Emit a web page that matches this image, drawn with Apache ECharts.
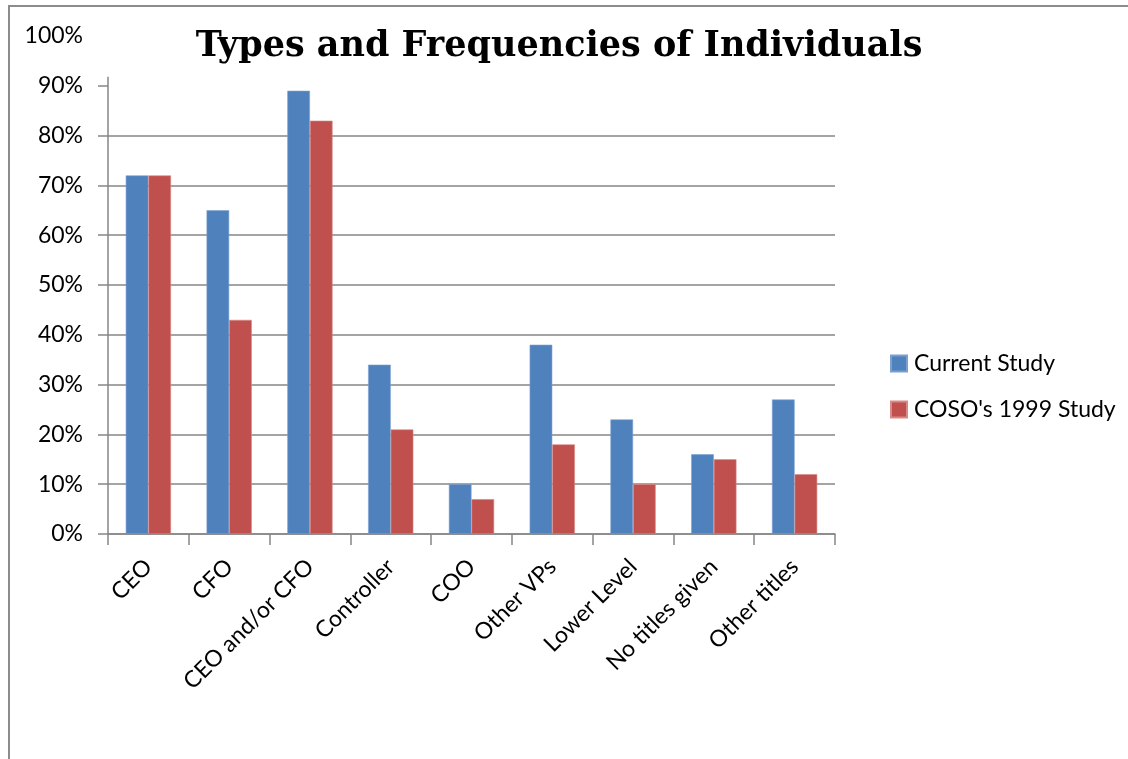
<!DOCTYPE html>
<html>
<head>
<meta charset="utf-8">
<script src="https://cdn.jsdelivr.net/npm/echarts@6/dist/echarts.min.js"></script>
<style>
  html, body { margin: 0; padding: 0; background: #fff; }
  #chart { width: 1128px; height: 759px; }
</style>
</head>
<body>
<div id="chart"></div>
<script>
// Job titles of the individuals named
const categories = ['CEO', 'CFO', 'CEO and/or CFO', 'Controller', 'COO', 'Other VPs', 'Lower Level', 'No titles given', 'Other titles'];
// Share of cases naming each title (fractions)
const currentStudy = [0.72, 0.65, 0.89, 0.34, 0.10, 0.38, 0.23, 0.16, 0.27];
const cosoStudy1999 = [0.72, 0.43, 0.83, 0.21, 0.07, 0.18, 0.10, 0.15, 0.12];
const seriesNames = ['Current Study', "COSO's 1999 Study"];
// Value-axis ticks with gridlines (0% .. 90%)
const gridTicks = [0, 0.1, 0.2, 0.3, 0.4, 0.5, 0.6, 0.7, 0.8, 0.9];
const axisTop = 0.918;

const labelFont = 'Lato, "Liberation Sans", sans-serif';
const gray = '#868686';

const chart = echarts.init(document.getElementById('chart'), null, { renderer: 'canvas' });

chart.setOption({
  animation: false,
  backgroundColor: '#fff',
  title: {
    text: 'Types and Frequencies of Individuals',
    left: 554,
    textAlign: 'center',
    top: 24,
    textStyle: {
      fontFamily: '"DejaVu Serif", serif',
      fontWeight: 'bold',
      fontSize: 35,
      color: '#000'
    }
  },
  legend: {
    orient: 'vertical',
    left: 885,
    top: 347,
    itemWidth: 16,
    itemHeight: 16,
    itemGap: 23,
    icon: 'rect',
    textStyle: { fontFamily: labelFont, fontSize: 23, color: '#000', padding: [0, 0, 0, 2] },
    data: seriesNames
  },
  grid: { left: 108, right: 293, top: 36, bottom: 225, containLabel: false },
  xAxis: {
    type: 'category',
    data: categories,
    axisLine: { show: true, lineStyle: { color: gray, width: 1.5 } },
    axisTick: { show: true, length: 11, lineStyle: { color: gray, width: 1.5 } },
    axisLabel: {
      rotate: 45,
      margin: 29,
      fontFamily: labelFont,
      fontSize: 23,
      color: '#000'
    }
  },
  yAxis: {
    type: 'value',
    min: 0,
    max: 1,
    interval: 0.1,
    axisLine: { show: false },
    axisTick: { show: true, length: 10, customValues: gridTicks, lineStyle: { color: gray, width: 1.5 } },
    splitLine: { show: true, showMaxLine: false, lineStyle: { color: gray, width: 1.5 } },
    axisLabel: {
      margin: 25,
      fontFamily: labelFont,
      fontSize: 23,
      color: '#000',
      formatter: v => Math.round(v * 100) + '%'
    }
  },
  series: [
    {
      name: seriesNames[0],
      type: 'bar',
      data: currentStudy,
      barGap: '0%',
      barCategoryGap: '44%',
      itemStyle: { color: '#4F81BD', borderColor: '#7aa0d0', borderWidth: 0.6 }
    },
    {
      name: seriesNames[1],
      type: 'bar',
      data: cosoStudy1999,
      barGap: '0%',
      barCategoryGap: '44%',
      itemStyle: { color: '#C0504D', borderColor: '#d88a88', borderWidth: 0.6 }
    }
  ]
});

// Vertical value axis line, stopping just above the 90% gridline, plus the chart frame
const x0 = chart.convertToPixel({ xAxisIndex: 0 }, 0) - (chart.convertToPixel({ xAxisIndex: 0 }, 1) - chart.convertToPixel({ xAxisIndex: 0 }, 0)) / 2;
const yBottom = chart.convertToPixel({ yAxisIndex: 0 }, 0);
const yTop = chart.convertToPixel({ yAxisIndex: 0 }, axisTop);
chart.setOption({
  graphic: [
    {
      type: 'line',
      shape: { x1: x0, y1: yBottom, x2: x0, y2: yTop },
      style: { stroke: gray, lineWidth: 1.5 },
      z: 10
    },
    {
      type: 'rect',
      shape: { x: 9, y: 6, width: 1140, height: 780 },
      style: { fill: 'none', stroke: '#8c8c8c', lineWidth: 2 },
      z: 0,
      silent: true
    }
  ]
});
</script>
</body>
</html>
